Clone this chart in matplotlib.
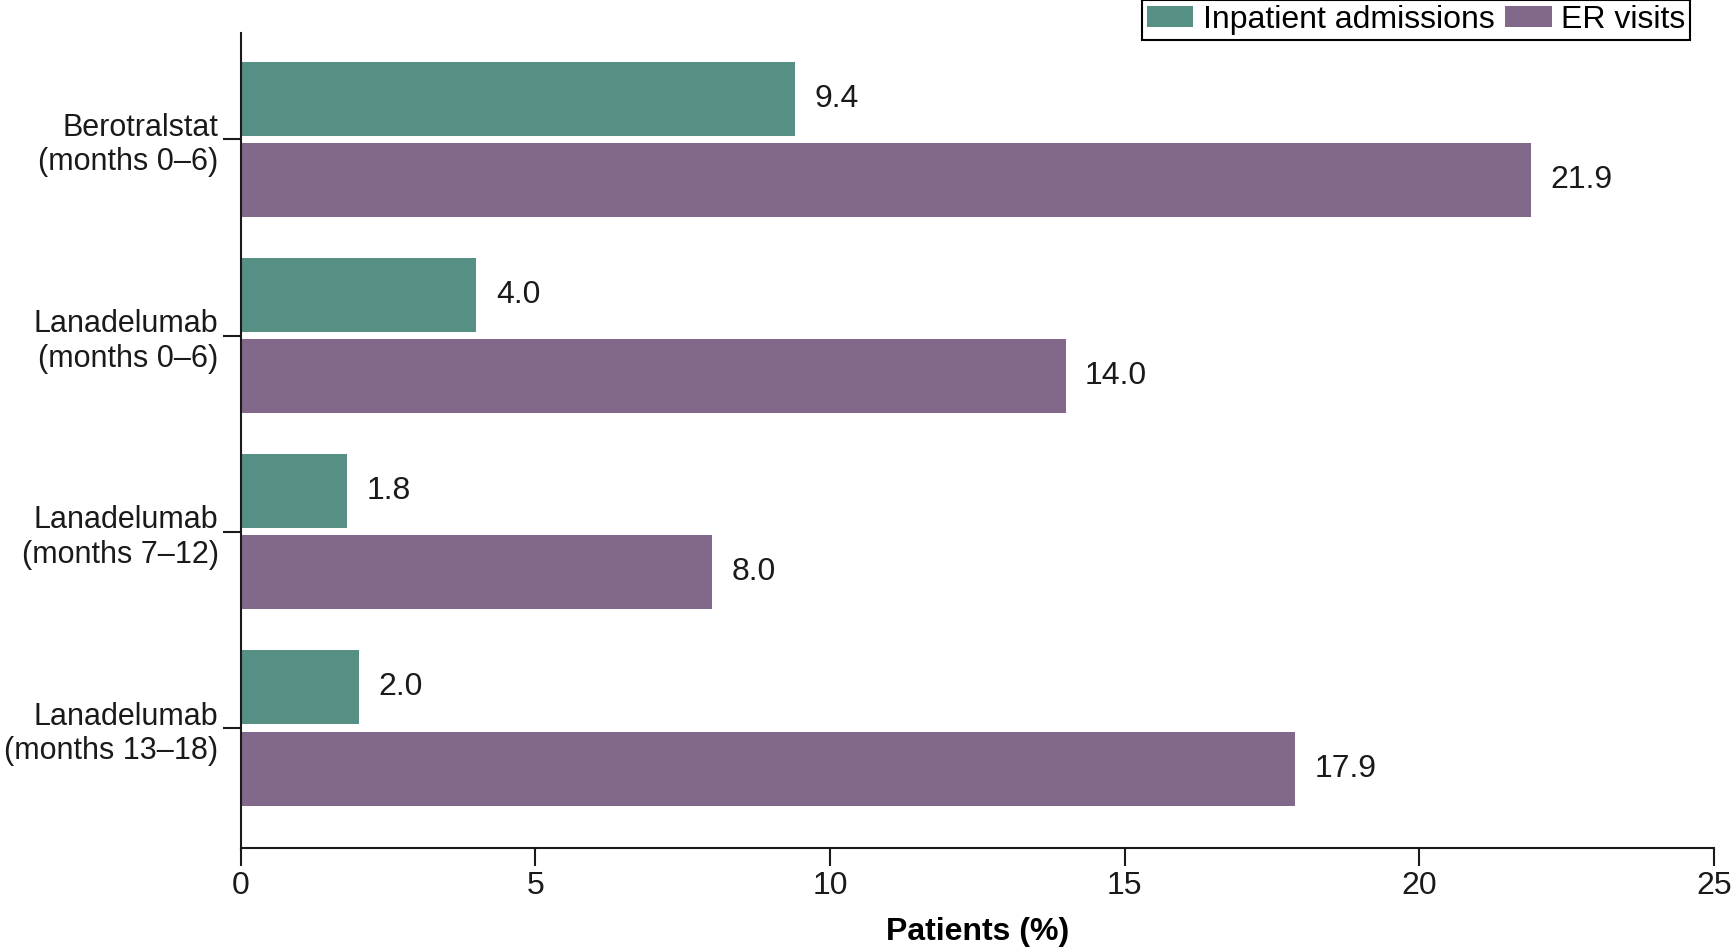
import matplotlib.pyplot as plt
import numpy as np

plt.rcParams['font.family'] = ['Liberation Sans', 'DejaVu Sans']

# dados
groups = ['Berotralstat\n(months 0–6)', 'Lanadelumab\n(months 0–6)',
          'Lanadelumab\n(months 7–12)', 'Lanadelumab\n(months 13–18)']
inpatient = [9.4, 4.0, 1.8, 2.0]
er_visits = [21.9, 14.0, 8.0, 17.9]
xticks = [0, 5, 10, 15, 20, 25]

c_green = '#568f84'
c_purple = '#82688b'
fs = 23

fig = plt.figure(figsize=(17.32, 9.5), dpi=100)
ax = fig.add_axes([0.139, 0.107, 0.8505, 0.858])

y = np.arange(len(groups))
h = 0.377
off = 0.207

b1 = ax.barh(y - off, inpatient, height=h, color=c_green, label='Inpatient admissions')
b2 = ax.barh(y + off, er_visits, height=h, color=c_purple, label='ER visits')

for bars, vals in [(b1, inpatient), (b2, er_visits)]:
    for b, v in zip(bars, vals):
        ax.text(v + 0.33, b.get_y() + b.get_height() / 2, f'{v:.1f}',
                va='center', ha='left', fontsize=fs, color='#1a1a1a')

ax.set_xlim(0, 25)
ax.set_ylim(3.613, -0.54)
ax.set_xticks(xticks)
ax.set_yticks(y)
ax.set_yticklabels(groups, fontsize=22, linespacing=1.2)
ax.tick_params(axis='x', labelsize=fs, length=13, width=1.5, pad=3, colors='#1a1a1a')
ax.tick_params(axis='y', length=13, width=1.5, pad=3, colors='#1a1a1a')
ax.spines['top'].set_visible(False)
ax.spines['right'].set_visible(False)
for s in ['left', 'bottom']:
    ax.spines[s].set_linewidth(1.5)
    ax.spines[s].set_color('#1a1a1a')

ax.set_xlabel('Patients (%)', fontsize=fs, fontweight='bold', labelpad=12)

leg = fig.legend(loc='upper right', bbox_to_anchor=(0.976, 1.0), ncol=2, fontsize=fs,
                 frameon=True, fancybox=False, edgecolor='black', framealpha=1,
                 handlelength=1.45, handleheight=0.6, handletextpad=0.3,
                 columnspacing=0.35, borderpad=0.15, borderaxespad=0.0)
leg.get_frame().set_linewidth(1.5)

fig.savefig('out.png', dpi=100)
